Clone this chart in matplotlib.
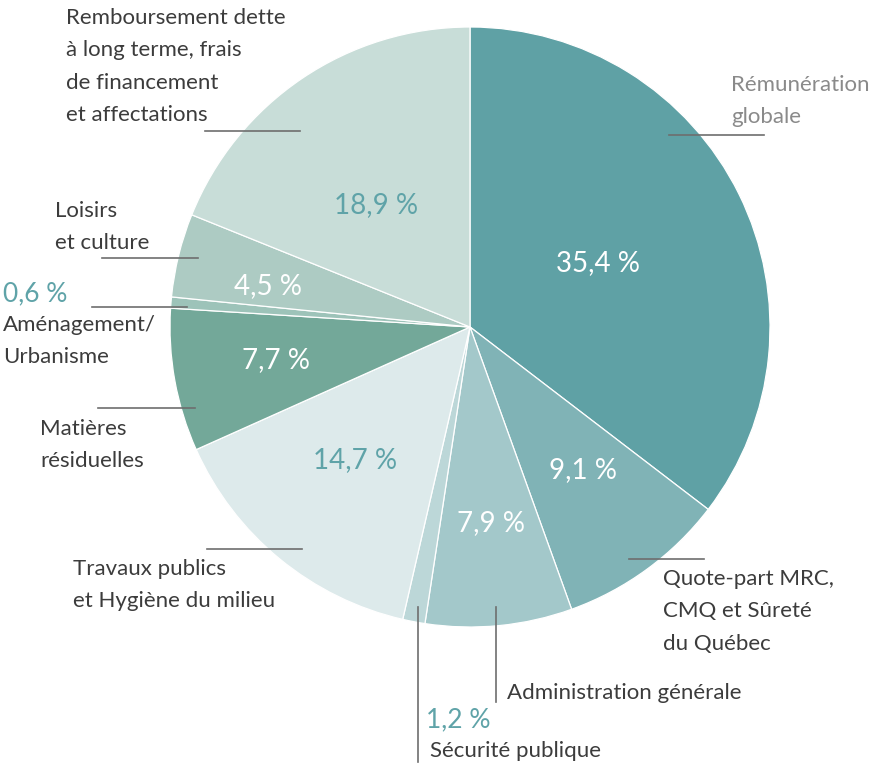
import matplotlib
matplotlib.use("Agg")
import matplotlib.pyplot as plt

plt.rcParams["font.family"] = ["Lato", "DejaVu Sans"]

# Répartition des dépenses (%), dans le sens horaire depuis le haut
categories = [
    "Rémunération\nglobale",
    "Quote-part MRC,\nCMQ et Sûreté\ndu Québec",
    "Administration générale",
    "Sécurité publique",
    "Travaux publics\net Hygiène du milieu",
    "Matières\nrésiduelles",
    "Aménagement/\nUrbanisme",
    "Loisirs\net culture",
    "Remboursement dette\nà long terme, frais\nde financement\net affectations",
]
shares = [35.4, 9.1, 7.9, 1.2, 14.7, 7.7, 0.6, 4.5, 18.9]
slice_colors = ["#5fa1a5", "#80b3b6", "#a3c8ca", "#bcd7d8", "#ddeaeb",
                "#73a899", "#9dc3b9", "#adcbc3", "#c8ddd8"]

TEAL = "#5fa3a8"
TEXT = "#3c3c3c"
LINE = "#6e6e6e"

# pixel layout (y grows downwards)
CX, CY, R = 470, 327, 300

fig = plt.figure(figsize=(8.72, 7.67), dpi=100)
ax = fig.add_axes([0, 0, 1, 1])
ax.pie(shares, colors=slice_colors, center=(CX, CY), radius=R,
       startangle=-90, counterclock=True,
       wedgeprops=dict(edgecolor="white", linewidth=0.9))
ax.set_xlim(0, 872)
ax.set_ylim(767, 0)
ax.set_aspect("equal")
ax.axis("off")


def pct(v):
    return f"{v:.1f}".replace(".", ",") + " %"


# percentage labels inside the slices: (x, y, colour) per slice, None = outside
inside = [(598, 263, "white"), (583, 470, "white"), (491, 523, "white"), None,
          (355, 460, TEAL), (276, 360, "white"), None, (268, 286, "white"),
          (376, 205, TEAL)]
for v, spec in zip(shares, inside):
    if spec is None:
        continue
    x, y, c = spec
    ax.text(x, y, pct(v), color=c, fontsize=20, ha="center", va="center")

# outside percentages for the thin slices
ax.text(3, 294, pct(shares[6]), color=TEAL, fontsize=19, ha="left", va="center")
ax.text(426, 720, pct(shares[3]), color=TEAL, fontsize=19, ha="left", va="center")

# category labels: (x, y centre of first line, colour)
label_pos = [(731, 84, "#8a8a8a"), (663, 578, TEXT), (507, 692, TEXT), (430, 750, TEXT),
             (73, 568, TEXT), (40, 428, TEXT), (3, 324, TEXT), (55, 210, TEXT),
             (66, 17, TEXT)]
for lab, (x, y, c) in zip(categories, label_pos):
    ax.text(x, y - 9, lab, color=c, fontsize=16, ha="left", va="top", linespacing=1.78)

# leader lines
hlines = [(135, 669, 764), (559, 629, 704), (549, 207, 302), (408, 98, 195),
          (307, 92, 187), (258, 102, 198), (131, 205, 300)]
for y, x0, x1 in hlines:
    ax.plot([x0, x1], [y, y], color=LINE, lw=1.2)
vlines = [(496, 607, 702), (418, 607, 762)]
for x, y0, y1 in vlines:
    ax.plot([x, x], [y0, y1], color=LINE, lw=1.2)

fig.savefig("out.png", dpi=100, facecolor="white")
